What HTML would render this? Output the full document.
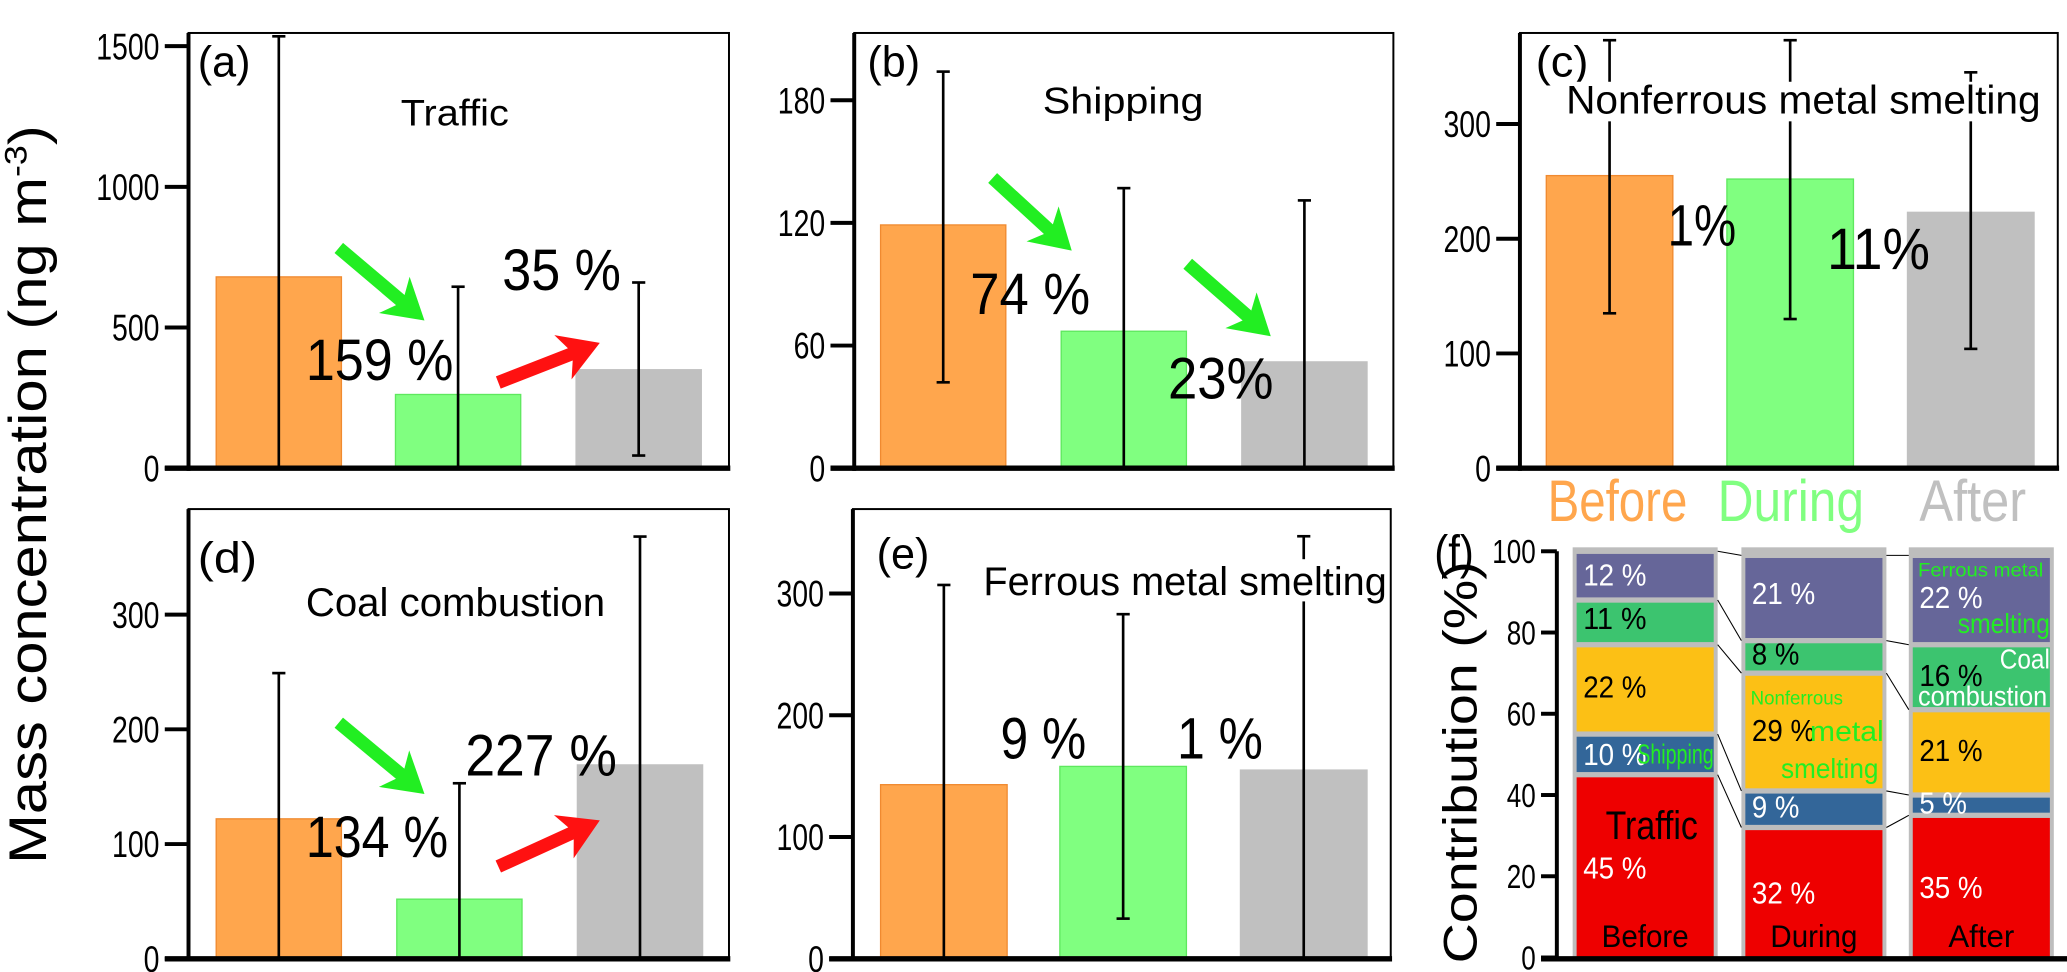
<!DOCTYPE html>
<html><head><meta charset="utf-8"><style>
html,body{margin:0;padding:0;background:#fff;width:2067px;height:972px;overflow:hidden}
svg{display:block;font-family:"Liberation Sans",sans-serif}
</style></head><body>
<svg id="fig" width="2067" height="972" viewBox="0 0 1568 737" preserveAspectRatio="none" xmlns="http://www.w3.org/2000/svg">
<rect width="1568" height="737" fill="#fff"/>
</svg>
<script>
// ---- data ----
const periods = ["Before","During","After"];
const trafficVals = [680, 262, 350];
const trafficLo = [0, 0, 45];
const trafficHi = [1535, 645, 660];
const shippingVals = [119, 67, 52];
const shippingLo = [42, 0, 0];
const shippingHi = [194, 137, 131];
const nonferrousVals = [255, 252, 223];
const nonferrousLo = [135, 130, 104];
const nonferrousHi = [373, 373, 345];
const coalVals = [122, 52, 169];
const coalLo = [0, 0, 0];
const coalHi = [249, 153, 368];
const ferrousVals = [143, 158, 155];
const ferrousLo = [0, 33, 0];
const ferrousHi = [307, 283, 347];
const ticksA = [0, 500, 1000, 1500];
const ticksB = [0, 60, 120, 180];
const ticksC = [0, 100, 200, 300];
const ticksD = [0, 100, 200, 300];
const ticksE = [0, 100, 200, 300];
const sources = ["Traffic","Shipping","Nonferrous","Coal","Ferrous"];
const contribBefore = [45, 10, 22, 11, 12];
const contribDuring = [32, 9, 29, 8, 21];
const contribAfter = [35, 5, 21, 16, 22];
const ticksF = [0, 20, 40, 60, 80, 100];

const NS = "http://www.w3.org/2000/svg";
const svg = document.getElementById('fig');
function mk(tag, attrs, parent){const e=document.createElementNS(NS,tag);for(const k in attrs)e.setAttribute(k,attrs[k]);(parent||svg).appendChild(e);return e;}
function txt(s, attrs, parent){const e=mk('text',attrs,parent);e.textContent=s;return e;}
const barColors=["#ffa64d","#80ff80","#c0c0c0"];
const barStroke=["#f08a30","#5ee85e","#c0c0c0"];

function panel(cfg){
  const g=mk('g',{});
  
  
  const y=v=>cfg.y0-v*(cfg.y0-cfg.yTop)/cfg.vTop;
  const box=mk('rect',{x:cfg.x0,y:cfg.boxTop,width:cfg.x1-cfg.x0,height:cfg.y0-cfg.boxTop,fill:'none',stroke:'#000','stroke-width':1.5},g);
  
  
  cfg.vals.forEach((v,i)=>{
    const r=mk('rect',{x:cfg.bx[i],y:y(v),width:cfg.bw,height:cfg.y0-y(v),fill:barColors[i],stroke:barStroke[i],'stroke-width':1},g);
    
    
  });
  cfg.vals.forEach((v,i)=>{
    const cx=cfg.bx[i]+cfg.bw/2;
    const eg=mk('g',{stroke:'#000','stroke-width':2},g);
    
    
    const lo=y(cfg.lo[i]),hi=y(cfg.hi[i]);
    mk('line',{x1:cx,x2:cx,y1:lo,y2:hi},eg);
    mk('line',{x1:cx-5,x2:cx+5,y1:hi,y2:hi},eg);
    if(cfg.lo[i]>0) mk('line',{x1:cx-5,x2:cx+5,y1:lo,y2:lo},eg);
  });
  const ax=mk('g',{},g);
  
  
  mk('line',{x1:cfg.x0,x2:cfg.x0,y1:cfg.boxTop,y2:cfg.y0+2,stroke:'#000','stroke-width':3},ax);
  mk('line',{x1:cfg.x0-18,x2:cfg.x1+1,y1:cfg.y0,y2:cfg.y0,stroke:'#000','stroke-width':4},ax);
  cfg.ticks.forEach(t=>{
    mk('line',{x1:cfg.x0-18,x2:cfg.x0,y1:y(t),y2:y(t),stroke:'#000','stroke-width':3},ax);
    const s=String(t);
    const tl=txt(s,{x:cfg.x0-22,y:y(t)+10,'text-anchor':'end','font-size':28,textLength:s.length*12,lengthAdjust:'spacingAndGlyphs'},ax);
    
    
  });
  return {g,y};
}
function label(s,x,y,size,parent,name,opts){
  const t=txt(s,Object.assign({x:x,y:y,'font-size':size},opts||{}),parent);
  
  
  return t;
}
function W(w){return {textLength:w,lengthAdjust:'spacingAndGlyphs'};}
function arrow(x1,y1,x2,y2,color,parent,name){
  const ang=Math.atan2(y2-y1,x2-x1);
  const L=Math.hypot(x2-x1,y2-y1);
  const g=mk('g',{transform:`translate(${x1},${y1}) rotate(${ang*180/Math.PI})`},parent);
  
  
  mk('path',{d:`M0,-5 L${L-24},-5 L${L-30},-18 L${L},0 L${L-30},18 L${L-24},5 L0,5 Z`,fill:color},g);
}

// Panel a
let p=panel({id:'a-traffic',x0:143,x1:553,y0:355,yTop:35,vTop:1500,boxTop:25,bx:[164,300,437],bw:95,vals:trafficVals,lo:trafficLo,hi:trafficHi,ticks:ticksA});
label('(a)',150,58,33,p.g,'panel-label',W(40));
label('Traffic',304,95,28,p.g,'panel-title',W(82));
arrow(257,188,322,243,'#22ee22',p.g,'decrease-arrow');
arrow(378,290,455,260,'#ff1111',p.g,'increase-arrow');
label('159 %',232,288,44,p.g,'change-label',W(112));
label('35 %',381,220,44,p.g,'change-label',W(90));

// Panel b
p=panel({id:'b-shipping',x0:648,x1:1057,y0:355,yTop:76,vTop:180,boxTop:25,bx:[668,805,942],bw:95,vals:shippingVals,lo:shippingLo,hi:shippingHi,ticks:ticksB});
label('(b)',658,58,33,p.g,'panel-label',W(40));
label('Shipping',791,86,28,p.g,'panel-title',W(122));
arrow(753,135,813,190,'#22ee22',p.g,'decrease-arrow');
arrow(901,200,964,255,'#22ee22',p.g,'decrease-arrow');
label('74 %',736,238,44,p.g,'change-label',W(91));
label('23%',886,302,44,p.g,'change-label',W(80));

// Panel c
p=panel({id:'c-nonferrous',x0:1153,x1:1561,y0:355,yTop:94,vTop:300,boxTop:25,bx:[1173,1310,1447],bw:96,vals:nonferrousVals,lo:nonferrousLo,hi:nonferrousHi,ticks:ticksC});
label('(c)',1165,58,33,p.g,'panel-label',W(40));
mk('rect',{x:1186,y:62,width:366,height:30,fill:'#fff'},p.g);
label('Nonferrous metal smelting',1188,86,30,p.g,'panel-title',W(360));
label('1%',1265,186,44,p.g,'change-label',W(52));
label('11%',1386,204,44,p.g,'change-label',W(78));

// Panel d
p=panel({id:'d-coal',x0:143,x1:553,y0:727,yTop:466,vTop:300,boxTop:386,bx:[164,301,438],bw:95,vals:coalVals,lo:coalLo,hi:coalHi,ticks:ticksD});
label('(d)',150,434,33,p.g,'panel-label',W(45));
label('Coal combustion',232,467,30,p.g,'panel-title',W(227));
arrow(257,548,322,602,'#22ee22',p.g,'decrease-arrow');
arrow(378,657,455,622,'#ff1111',p.g,'increase-arrow');
label('134 %',232,650,44,p.g,'change-label',W(108));
label('227 %',353,588,44,p.g,'change-label',W(115));

// Panel e
p=panel({id:'e-ferrous',x0:647,x1:1055,y0:727,yTop:450,vTop:300,boxTop:386,bx:[668,804,941],bw:96,vals:ferrousVals,lo:ferrousLo,hi:ferrousHi,ticks:ticksE});
label('(e)',665,431,33,p.g,'panel-label',W(40));
mk('rect',{x:744,y:424,width:310,height:32,fill:'#fff'},p.g);
label('Ferrous metal smelting',746,451,30,p.g,'panel-title',W(306));
label('9 %',759,575,44,p.g,'change-label',W(65));
label('1 %',893,575,44,p.g,'change-label',W(65));

// Y axis title
const yt=txt('Mass concentration (ng m',{transform:'translate(35,375) rotate(-90)','text-anchor':'middle','font-size':40});
const sup=mk('tspan',{'dy':-15,'font-size':24},yt);sup.textContent='-3';
const cl=mk('tspan',{'dy':15},yt);cl.textContent=')';
yt.setAttribute('textLength',560);
yt.setAttribute('lengthAdjust','spacingAndGlyphs');



// Period header
const hdr=mk('g',{});


label('Before',1174,395,44,hdr,'legend-before',Object.assign({fill:'#ffa64d'},W(106)));
label('During',1303,395,44,hdr,'legend-during',Object.assign({fill:'#80ff80'},W(111)));
label('After',1456,395,44,hdr,'legend-after',Object.assign({fill:'#c0c0c0'},W(81)));

// Panel f
const fg=mk('g',{});


const fy=v=>726-v*(726-418)/100;
const segColors=["#ee0000","#336699","#fcc015","#3cc46f","#666699"];
const colsX=[1196,1324,1451], colW=104;
const contribs=[contribBefore,contribDuring,contribAfter];
const segTop=[];
contribs.forEach((arr,ci)=>{
  mk('rect',{x:colsX[ci]-3,y:fy(100)-3,width:colW+6,height:fy(0)-fy(100)+3,fill:'#bdbdbd'},fg);
  let acc=0; segTop.push([]);
  arr.forEach((v,si)=>{
    const r=mk('rect',{x:colsX[ci],y:fy(acc+v)+2,width:colW,height:Math.max(0,fy(acc)-fy(acc+v)-(acc===0?2:4)),fill:segColors[si]},fg);
    
    
    segTop[ci].push([acc,acc+v]);
    acc+=v;
  });
});
for(let ci=0;ci<2;ci++){
  for(let si=0;si<5;si++){
    const a=segTop[ci][si][1], b=segTop[ci+1][si][1];
    const c=mk('line',{x1:colsX[ci]+colW+3,y1:fy(a),x2:colsX[ci+1]-3,y2:fy(b),stroke:'#000','stroke-width':0.8},fg);
    
    
  }
}
// percent labels: [column][source] baseline y
const labY=[[666,580,529,477,444],[685,620,562,504,458],[681,617,577,520,461]];
const labFill=["#fff","#fff","#000","#000","#fff"];
contribs.forEach((arr,ci)=>{
  arr.forEach((v,si)=>{
    const s=v+' %';
    label(s,colsX[ci]+5,labY[ci][si],23,fg,'percent-label',Object.assign({fill:labFill[si]},W(s.length*12)));
  });
});
label('Traffic',1218,636,30,fg,'source-label-traffic',W(70));
label('Shipping',1242,579,21,fg,'source-label-shipping',Object.assign({fill:'#22ee22'},W(58)));
label('Nonferrous',1328,534,15,fg,'source-label-nonferrous',Object.assign({fill:'#22ee22'},W(70)));
label('metal',1373,562,22,fg,'source-label-nonferrous',Object.assign({fill:'#22ee22'},W(56)));
label('smelting',1351,590,21,fg,'source-label-nonferrous',Object.assign({fill:'#22ee22'},W(74)));
label('Ferrous metal',1455,437,15,fg,'source-label-ferrous',Object.assign({fill:'#22ee22'},W(95)));
label('smelting',1485,480,21,fg,'source-label-ferrous',Object.assign({fill:'#22ee22'},W(70)));
label('Coal',1517,507,21,fg,'source-label-coal',Object.assign({fill:'#fff'},W(38)));
label('combustion',1455,535,21,fg,'source-label-coal',Object.assign({fill:'#fff'},W(98)));
label('Before',1248,718,24,fg,'x-label-before',Object.assign({'text-anchor':'middle'},W(66)));
label('During',1376,718,24,fg,'x-label-during',Object.assign({'text-anchor':'middle'},W(66)));
label('After',1503,718,24,fg,'x-label-after',Object.assign({'text-anchor':'middle'},W(50)));
mk('line',{x1:1181,x2:1181,y1:fy(100),y2:fy(0),stroke:'#000','stroke-width':3},fg);
mk('line',{x1:1169,x2:1568,y1:fy(0)+1,y2:fy(0)+1,stroke:'#000','stroke-width':4},fg);
ticksF.forEach(t=>{
  mk('line',{x1:1169,x2:1181,y1:fy(t),y2:fy(t),stroke:'#000','stroke-width':3},fg);
  const s=String(t);
  label(s,1165,fy(t)+9,25,fg,'y-tick-label',Object.assign({'text-anchor':'end'},W(s.length*11)));
});
label('(f)',1088,431,36,fg,'panel-label',W(30));
const ft=txt('Contribution (%)',{transform:'translate(1120,578) rotate(-90)','text-anchor':'middle','font-size':36,textLength:305,lengthAdjust:'spacingAndGlyphs'},fg);


</script>
</body></html>
